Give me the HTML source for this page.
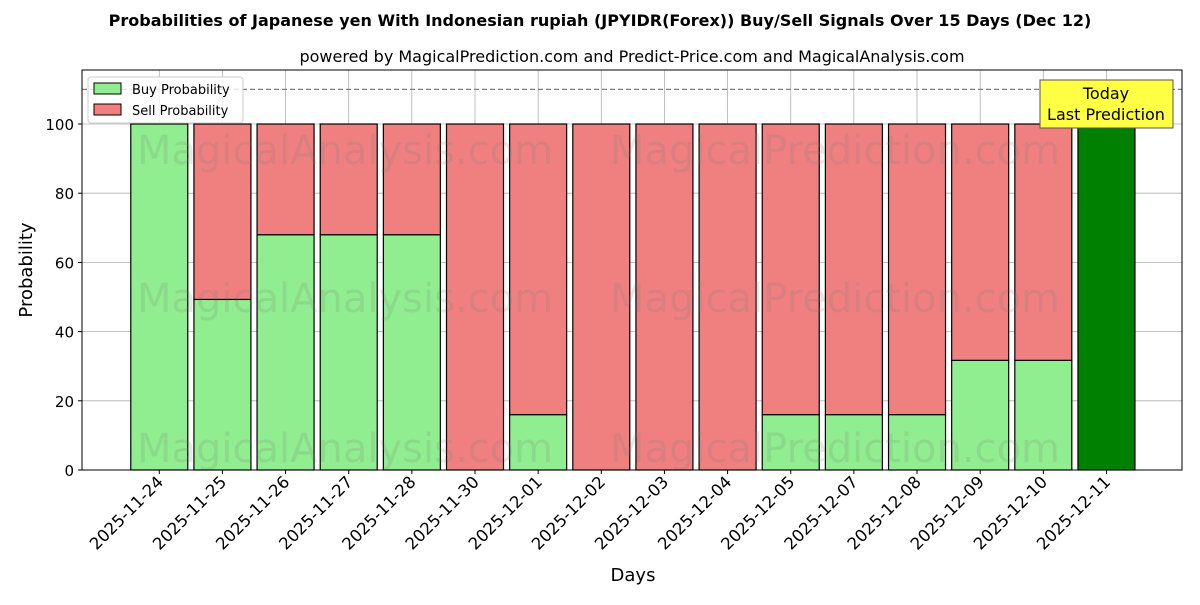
<!DOCTYPE html>
<html><head><meta charset="utf-8"><style>body{margin:0;background:#fff}svg text{font-family:"DejaVu Sans","Liberation Sans",sans-serif}</style></head>
<body>
<svg id="c" width="1200" height="600" xmlns="http://www.w3.org/2000/svg">
<text x="600" y="26" text-anchor="middle" font-size="16" font-weight="bold">Probabilities of Japanese yen With Indonesian rupiah (JPYIDR(Forex)) Buy/Sell Signals Over 15 Days (Dec 12)</text>
<text x="632" y="62" text-anchor="middle" font-size="16">powered by MagicalPrediction.com and Predict-Price.com and MagicalAnalysis.com</text>
<g id="grid"></g><g id="bars"></g><g id="wm"></g><g id="axes"></g>
</svg>
<script>
const categories=["2025-11-24","2025-11-25","2025-11-26","2025-11-27","2025-11-28","2025-11-30","2025-12-01","2025-12-02","2025-12-03","2025-12-04","2025-12-05","2025-12-07","2025-12-08","2025-12-09","2025-12-10","2025-12-11"];
const buyValues=[100,49.3,68,68,68,0,16,0,0,0,16,16,16,31.7,31.7,100];
const sellValues=[0,50.7,32,32,32,100,84,100,100,100,84,84,84,68.3,68.3,0];
const yTicks=[0,20,40,60,80,100];
const L=82,R=1182,T=70,B=470;
const x=i=>L+1.5+(i+1.2)*(R-L)/17.42;
const y=v=>B-(v)*3.46;
const bw=57;
const NS="http://www.w3.org/2000/svg";
function mk(p,t,a){const e=document.createElementNS(NS,t);for(const k in a)e.setAttribute(k,a[k]);p.appendChild(e);return e;}
const grid=document.getElementById('grid'),bars=document.getElementById('bars'),axes=document.getElementById('axes'),wm=document.getElementById('wm');
yTicks.forEach(v=>{const l=mk(grid,'line',{x1:L,x2:R,y1:y(v),y2:y(v),stroke:'#b0b0b0','stroke-width':0.8});


const t=mk(axes,'text',{x:L-8,y:y(v)+6,'text-anchor':'end','font-size':15});t.textContent=v;


mk(axes,'line',{x1:L-4,x2:L,y1:y(v),y2:y(v),stroke:'#000'});});
categories.forEach((c,i)=>{const gl=mk(grid,'line',{x1:x(i),x2:x(i),y1:T,y2:B,stroke:'#b0b0b0','stroke-width':0.8});


const last=i===categories.length-1;
const b=mk(bars,'rect',{x:x(i)-bw/2,y:y(buyValues[i]),width:bw,height:y(0)-y(buyValues[i]),fill:last?'#008000':'#90ee90',stroke:'#000','stroke-width':1.2});


if(sellValues[i]>0){const s=mk(bars,'rect',{x:x(i)-bw/2,y:y(buyValues[i]+sellValues[i]),width:bw,height:y(buyValues[i])-y(buyValues[i]+sellValues[i]),fill:'#f08080',stroke:'#000','stroke-width':1.2});

}
mk(axes,'line',{x1:x(i),x2:x(i),y1:B,y2:B+4,stroke:'#000'});
const t=mk(axes,'text',{x:x(i)+5,y:B+13,'text-anchor':'end','font-size':16.5,transform:`rotate(-45 ${x(i)+5} ${B+13})`});t.textContent=c;

});
[[345,150],[835,150],[345,298],[835,298],[345,448],[835,448]].forEach(p=>{const t=mk(wm,'text',{x:p[0],y:p[1]+14,'text-anchor':'middle','font-size':40,fill:'rgba(120,120,120,0.18)'});t.textContent=p[0]<600?'MagicalAnalysis.com':'MagicalPrediction.com';

});
const dl=mk(axes,'line',{x1:L,x2:R,y1:y(110),y2:y(110),stroke:'#808080','stroke-dasharray':'5,3','stroke-width':1.2});


const fr=mk(axes,'rect',{x:L,y:T,width:R-L,height:B-T,fill:'none',stroke:'#000','stroke-width':1});


axes.insertAdjacentHTML('beforeend',`
<g><rect x="1040" y="80" width="133" height="48" fill="#ffff44" stroke="#555"/>
<text x="1106" y="99" text-anchor="middle" font-size="16">Today</text><text x="1106" y="120" text-anchor="middle" font-size="16">Last Prediction</text></g>
<g><rect x="88" y="77" width="155" height="46" fill="#fff" fill-opacity="0.8" stroke="#ccc" rx="3"/>
<g><rect x="94" y="83" width="27" height="11" fill="#90ee90" stroke="#000"/><text x="132" y="94" font-size="13">Buy Probability</text></g>
<g><rect x="94" y="104" width="27" height="11" fill="#f08080" stroke="#000"/><text x="132" y="115" font-size="13">Sell Probability</text></g></g>
<text x="633" y="581" text-anchor="middle" font-size="18">Days</text>
<text x="32" y="270" text-anchor="middle" font-size="18" transform="rotate(-90 32 270)">Probability</text>`);
</script>
</body></html>
